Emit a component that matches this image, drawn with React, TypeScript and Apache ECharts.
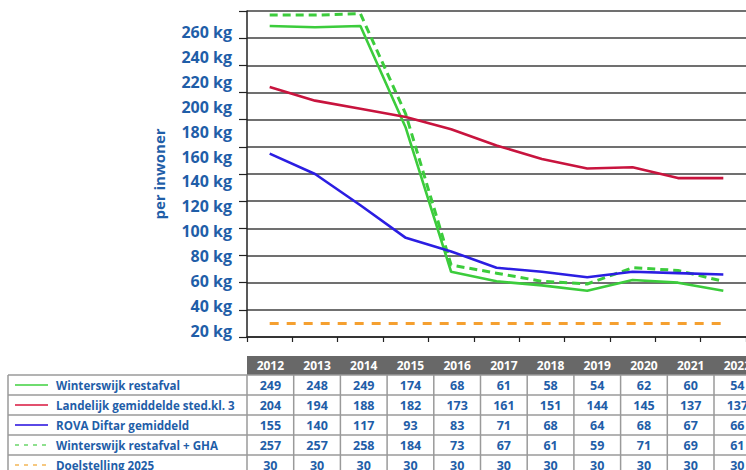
import React, { useEffect, useRef } from 'react';
import * as echarts from 'echarts';

const YEARS = ['2012', '2013', '2014', '2015', '2016', '2017', '2018', '2019', '2020', '2021', '2022'];
const WINTERSWIJK = [249, 248, 249, 174, 68, 61, 58, 54, 62, 60, 54];
const LANDELIJK = [204, 194, 188, 182, 173, 161, 151, 144, 145, 137, 137];
const ROVA = [155, 140, 117, 93, 83, 71, 68, 64, 68, 67, 66];
const WINTERSWIJK_GHA = [257, 257, 258, 184, 73, 67, 61, 59, 71, 69, 61];
const DOELSTELLING = [30, 30, 30, 30, 30, 30, 30, 30, 30, 30, 30];
const Y_TICKS = [20, 40, 60, 80, 100, 120, 140, 160, 180, 200, 220, 240, 260];

const SERIES_NAMES = [
  'Winterswijk restafval',
  'Landelijk gemiddelde sted.kl. 3',
  'ROVA Diftar gemiddeld',
  'Winterswijk restafval + GHA',
  'Doelstelling 2025',
];

const W = 746;
const H = 470;
const GRID_LEFT = 247;
const COL_W = 46.7;
const GRID_TOP = 11;
const GRID_H = 326;
const HEADER_TOP = 356;
const TABLE_TOP = 375;
const ROW_H = 20;
const TEXT_BLUE = '#1f5ea8';
const FONT = '"Open Sans", "Noto Sans", sans-serif';

export default function App() {
  const ref = useRef<HTMLDivElement>(null);

  useEffect(() => {
    const chart = echarts.init(ref.current!, null, { renderer: 'svg' });

    const rows = [WINTERSWIJK, LANDELIJK, ROVA, WINTERSWIJK_GHA, DOELSTELLING];
    const sampleStyles = [
      { stroke: '#6fdc6f', lineWidth: 1.8 },
      { stroke: '#e2506e', lineWidth: 1.8 },
      { stroke: '#5a48e6', lineWidth: 1.8 },
      { stroke: '#8fe08f', lineWidth: 1.8, lineDash: [4, 5] },
      { stroke: '#f6c880', lineWidth: 1.8, lineDash: [4, 5] },
    ];

    const graphic: any[] = [];
    // header
    graphic.push({
      type: 'rect',
      shape: { x: GRID_LEFT, y: HEADER_TOP, width: W - GRID_LEFT, height: TABLE_TOP - HEADER_TOP },
      style: { fill: '#686868' },
    });
    YEARS.forEach((yr, i) => {
      graphic.push({
        type: 'text',
        x: GRID_LEFT + (i + 0.5) * COL_W,
        y: (HEADER_TOP + TABLE_TOP) / 2,
        style: {
          text: yr,
          fill: '#ffffff',
          fontSize: 12,
          fontWeight: 'bold',
          fontFamily: FONT,
          align: 'center',
          verticalAlign: 'middle',
        },
      });
    });
    // borders
    for (let k = 0; k < 5; k++) {
      const y = TABLE_TOP + k * ROW_H;
      graphic.push({
        type: 'line',
        shape: { x1: 8, y1: y, x2: W, y2: y },
        style: { stroke: '#9a9a9a', lineWidth: 1.5 },
      });
    }
    graphic.push({
      type: 'line',
      shape: { x1: 8, y1: TABLE_TOP, x2: 8, y2: H },
      style: { stroke: '#9a9a9a', lineWidth: 1.5 },
    });
    for (let i = 0; i <= YEARS.length; i++) {
      const x = GRID_LEFT + i * COL_W;
      graphic.push({
        type: 'line',
        shape: { x1: x, y1: TABLE_TOP, x2: x, y2: H },
        style: { stroke: '#9a9a9a', lineWidth: 1.5 },
      });
    }
    // rows
    rows.forEach((vals, r) => {
      const cy = TABLE_TOP + r * ROW_H + ROW_H / 2;
      graphic.push({
        type: 'line',
        shape: { x1: 15, y1: cy, x2: 48, y2: cy },
        style: sampleStyles[r],
      });
      graphic.push({
        type: 'text',
        x: 56,
        y: cy,
        style: {
          text: SERIES_NAMES[r],
          fill: TEXT_BLUE,
          fontSize: 11.6,
          fontWeight: 'bold',
          fontFamily: FONT,
          align: 'left',
          verticalAlign: 'middle',
        },
      });
      vals.forEach((v, i) => {
        graphic.push({
          type: 'text',
          x: GRID_LEFT + (i + 0.5) * COL_W,
          y: cy,
          style: {
            text: String(v),
            fill: TEXT_BLUE,
            fontSize: 12.5,
            fontWeight: 'bold',
            fontFamily: FONT,
            align: 'center',
            verticalAlign: 'middle',
          },
        });
      });
    });

    chart.setOption({
      animation: false,
      backgroundColor: '#ffffff',
      grid: { left: GRID_LEFT, top: GRID_TOP, width: COL_W * YEARS.length, height: GRID_H },
      xAxis: {
        type: 'category',
        data: YEARS,
        boundaryGap: true,
        axisLabel: { show: false },
        axisLine: { lineStyle: { color: '#222', width: 1.5 } },
        axisTick: { show: true, length: 5, lineStyle: { color: '#222', width: 1.2 } },
      },
      yAxis: [
        {
          type: 'value',
          min: 20,
          max: 260,
          interval: 20,
          axisLabel: { show: false },
          axisLine: { show: true, lineStyle: { color: '#222', width: 1.5 } },
          axisTick: { show: true, length: 8, lineStyle: { color: '#222', width: 1.2 } },
          splitLine: { show: true, lineStyle: { color: '#707070', width: 2 } },
          name: 'per inwoner',
          nameLocation: 'middle',
          nameRotate: 90,
          nameGap: 81,
          nameTextStyle: { color: TEXT_BLUE, fontSize: 15, fontWeight: 'bold', fontFamily: FONT },
        },
        {
          type: 'value',
          position: 'left',
          min: 15.18,
          max: 276.86,
          axisLine: { show: false },
          axisTick: { show: false },
          splitLine: { show: false },
          axisLabel: {
            customValues: Y_TICKS,
            formatter: '{value} kg',
            margin: 15,
            color: TEXT_BLUE,
            fontSize: 16,
            fontWeight: 'bold',
            fontFamily: FONT,
          },
        },
      ],
      series: [
        {
          name: SERIES_NAMES[3],
          type: 'line',
          data: WINTERSWIJK_GHA,
          symbol: 'none',
          lineStyle: { color: '#3ccc3c', width: 3, type: [8, 5] },
          z: 2,
        },
        {
          name: SERIES_NAMES[0],
          type: 'line',
          data: WINTERSWIJK,
          symbol: 'none',
          lineStyle: { color: '#3ccc3c', width: 2.6 },
          z: 3,
        },
        {
          name: SERIES_NAMES[1],
          type: 'line',
          data: LANDELIJK,
          symbol: 'none',
          lineStyle: { color: '#c8143e', width: 2.6 },
          z: 3,
        },
        {
          name: SERIES_NAMES[2],
          type: 'line',
          data: ROVA,
          symbol: 'none',
          lineStyle: { color: '#2b1ee2', width: 2.6 },
          z: 3,
        },
        {
          name: SERIES_NAMES[4],
          type: 'line',
          data: DOELSTELLING,
          symbol: 'none',
          lineStyle: { color: '#f5a030', width: 3, type: [9, 8] },
          z: 3,
        },
      ],
      graphic,
    });

    return () => chart.dispose();
  }, []);

  return (
    <div
      ref={ref}
      style={{ position: 'absolute', left: 0, top: 0, width: W, height: H, background: '#fff' }}
    />
  );
}
